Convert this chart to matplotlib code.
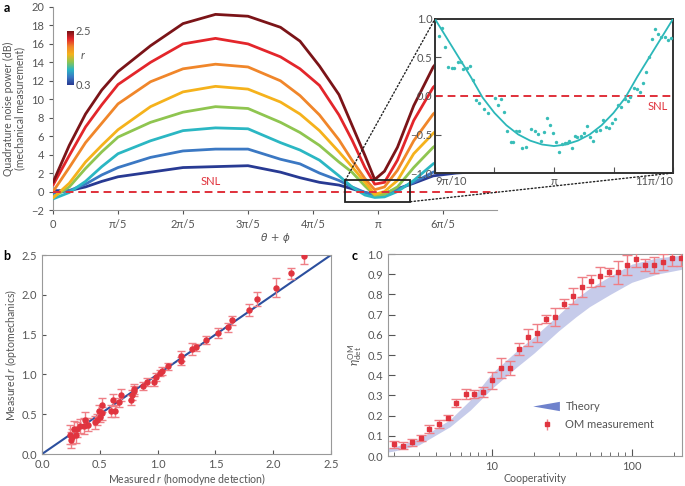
import numpy as np
import matplotlib
matplotlib.use("Agg")
import matplotlib.pyplot as plt
from matplotlib.colors import LinearSegmentedColormap
from matplotlib.patches import Rectangle, ConnectionPatch, Polygon
from matplotlib.legend_handler import HandlerBase

plt.rcParams['font.family'] = ['Lato', 'DejaVu Sans']
plt.rcParams['font.size'] = 8
plt.rcParams['mathtext.fontset'] = 'custom'
plt.rcParams['mathtext.rm'] = 'Lato'
plt.rcParams['mathtext.it'] = 'Lato:italic'

# ---------------- Panel a data (x in units of pi) ----------------
theta_pi = [0, 0.05, 0.1, 0.15, 0.2, 0.3, 0.4, 0.5, 0.6, 0.7, 0.76, 0.82, 0.88,
            0.92, 0.96, 0.99, 1.02, 1.06, 1.11, 1.17, 1.24, 1.32]
p_darkblue = [0.1, 0.1, 0.5, 1.1, 1.6, 2.1, 2.6, 2.7, 2.8, 2.1, 1.5, 1.0, 0.7,
              0.3, -0.1, -0.3, -0.2, 0.3, 0.9, 1.7, 2.0, 2.2]
p_blue = [-0.2, 0.1, 0.8, 1.8, 2.6, 3.7, 4.4, 4.6, 4.6, 3.5, 3.0, 2.0, 1.2,
          0.5, -0.1, -0.4, -0.3, 0.2, 1.0, 2.1, 2.8, 3.2]
p_cyan = [-0.8, -0.1, 1.1, 2.7, 4.1, 5.5, 6.6, 6.9, 6.8, 5.3, 4.5, 3.4, 1.7,
          0.5, -0.38, -0.64, -0.58, 0.0, 1.2, 3.0, 4.2, 5.2]
p_green = [-0.6, 0.5, 2.5, 4.3, 5.9, 7.5, 8.6, 9.2, 9.0, 7.5, 6.4, 5.0, 3.2,
           2.1, 0.6, -0.4, -0.3, 0.5, 2.6, 4.8, 6.5, 7.8]
p_yellow = [-0.7, 0.9, 3.2, 5.0, 6.7, 9.2, 10.8, 11.4, 11.1, 9.7, 8.4, 6.6, 4.3,
            2.7, 1.0, -0.3, 0.0, 1.2, 4.1, 6.3, 8.5, 10.0]
p_orange = [0.0, 2.6, 5.3, 7.4, 9.5, 11.9, 13.3, 13.8, 13.5, 12.0, 10.4, 8.3, 5.6,
            3.4, 1.4, 0.2, 0.5, 2.3, 5.5, 8.4, 10.5, 12.5]
p_red = [0.7, 3.9, 7.0, 9.4, 11.6, 14.0, 16.0, 16.6, 16.0, 14.6, 13.3, 11.5, 8.3,
         5.6, 2.6, 0.8, 1.0, 3.4, 7.7, 11.3, 13.5, 15.5]
p_darkred = [1.0, 5.0, 8.4, 11.0, 13.0, 15.8, 18.2, 19.2, 19.0, 17.8, 16.3, 13.6, 10.5,
             7.2, 3.9, 1.3, 2.2, 4.8, 9.3, 13.5, 16.5, 18.5]
curves = [p_darkblue, p_blue, p_cyan, p_green, p_yellow, p_orange, p_red, p_darkred]
curve_colors = ['#283a93', '#3b78c3', '#2bb7c3', '#8fc550', '#f5b21c', '#f0862a', '#e3262b', '#7b1418']

a_xticks = [0, 0.2, 0.4, 0.6, 0.8, 1.0, 1.2]
a_xticklabels = ['0', 'π/5', '2π/5', '3π/5', '4π/5', 'π', '6π/5']
a_yticks = list(range(-2, 21, 2))

# inset data (x in units of pi)
in_fit_t = [0.90, 0.91, 0.92, 0.93, 0.94, 0.95, 0.96, 0.97, 0.98, 0.99, 1.00,
            1.01, 1.02, 1.03, 1.04, 1.05, 1.06, 1.07, 1.08, 1.09, 1.10]
in_fit_p = [1.00, 0.75, 0.50, 0.25, -0.02, -0.22, -0.38, -0.50, -0.58, -0.63, -0.65,
            -0.63, -0.58, -0.50, -0.38, -0.22, -0.02, 0.25, 0.50, 0.75, 1.00]
in_pts_t = [0.9034, 0.9062, 0.9084, 0.9112, 0.9140, 0.9162, 0.9190, 0.9218, 0.9238, 0.9266,
            0.9294, 0.9316, 0.9344, 0.9372, 0.9414, 0.9448, 0.9503, 0.9531, 0.9554, 0.9579,
            0.9607, 0.9635, 0.9657, 0.9680, 0.9708, 0.9733, 0.9761, 0.9811, 0.9839, 0.9867,
            0.9889, 0.9917, 0.9943, 0.9965, 0.9993, 1.0015, 1.0043, 1.0071, 1.0091, 1.0113,
            1.0127, 1.0152, 1.0175, 1.0197, 1.0231, 1.0253, 1.0278, 1.0306, 1.0329, 1.0357,
            1.0385, 1.0413, 1.0435, 1.0463, 1.0491, 1.0516, 1.0538, 1.0566, 1.0594, 1.0622,
            1.0642, 1.0670, 1.0698, 1.0720, 1.0748, 1.0770, 1.0798, 1.0826, 1.0849, 1.0874,
            1.0902, 1.0930, 1.0957, 1.0985]
in_pts_p = [0.782, 0.878, 0.638, 0.380, 0.367, 0.358, 0.441, 0.441, 0.354, 0.367,
            0.389, 0.214, -0.048, -0.092, -0.166, -0.223, -0.026, -0.114, -0.035, -0.210,
            -0.454, -0.594, -0.603, -0.454, -0.454, -0.681, -0.659, -0.428, -0.454, -0.498,
            -0.585, -0.463, -0.288, -0.376, -0.485, -0.594, -0.725, -0.629, -0.616, -0.616,
            -0.585, -0.672, -0.515, -0.528, -0.515, -0.485, -0.384, -0.528, -0.581, -0.454,
            -0.441, -0.310, -0.397, -0.419, -0.354, -0.297, -0.114, -0.148, -0.035, -0.070,
            -0.017, 0.105, 0.096, 0.052, 0.170, 0.314, 0.507, 0.738, 0.869, 0.803,
            0.760, 0.769, 0.729, 0.751]
in_xticks = [0.9, 0.95, 1.0, 1.05, 1.1]
in_xticklabels = ['9π/10', '', 'π', '', '11π/10']
in_yticks = [-1.0, -0.5, 0.0, 0.5, 1.0]

# ---------------- Panel b data ----------------
b_x = [2.27, 2.15, 2.02, 1.86, 1.79, 1.64, 1.61, 1.52, 1.42, 1.33, 1.30, 1.20, 1.20, 1.09,
       1.04, 1.02, 0.99, 0.97, 0.91, 0.87, 0.80, 0.80, 0.78, 0.77, 0.68, 0.67, 0.61, 0.63,
       0.60, 0.52, 0.52, 0.50, 0.49, 0.48, 0.46, 0.40, 0.37, 0.36, 0.33, 0.30, 0.28, 0.26,
       0.29, 0.24, 0.25]
b_y = [2.49, 2.27, 2.09, 1.95, 1.81, 1.68, 1.59, 1.52, 1.43, 1.34, 1.32, 1.23, 1.17, 1.10,
       1.04, 1.02, 0.97, 0.91, 0.91, 0.86, 0.82, 0.79, 0.74, 0.68, 0.74, 0.65, 0.68, 0.54,
       0.54, 0.62, 0.51, 0.47, 0.54, 0.43, 0.40, 0.37, 0.43, 0.35, 0.35, 0.31, 0.31, 0.22,
       0.24, 0.24, 0.18]
b_err = [0.10, 0.07, 0.12, 0.09, 0.07, 0.06, 0.06, 0.06, 0.05, 0.04, 0.07, 0.06, 0.05, 0.04,
         0.05, 0.04, 0.05, 0.05, 0.05, 0.05, 0.06, 0.06, 0.06, 0.06, 0.08, 0.06, 0.08, 0.07,
         0.07, 0.09, 0.08, 0.07, 0.08, 0.07, 0.08, 0.08, 0.10, 0.10, 0.09, 0.09, 0.10, 0.10,
         0.10, 0.12, 0.10]
b_line = [0.0, 2.5]
b_ticks = [0.0, 0.5, 1.0, 1.5, 2.0, 2.5]

# ---------------- Panel c data ----------------
c_x = [1.98, 2.32, 2.67, 3.08, 3.56, 4.18, 4.81, 5.54, 6.46, 7.44, 8.63, 10.0, 11.65, 13.4,
       15.6, 18.1, 21.1, 24.3, 28.4, 32.7, 38.3, 44.2, 51.4, 59.3, 68.6, 79.4, 92.6, 108,
       125, 145, 168, 195, 227]
c_y = [0.058, 0.051, 0.069, 0.091, 0.134, 0.159, 0.190, 0.264, 0.309, 0.306, 0.316, 0.374,
       0.436, 0.436, 0.532, 0.587, 0.608, 0.679, 0.688, 0.755, 0.793, 0.835, 0.866, 0.889,
       0.911, 0.909, 0.947, 0.977, 0.944, 0.947, 0.962, 0.982, 0.980]
c_err = [0.017, 0.017, 0.017, 0.015, 0.02, 0.02, 0.012, 0.02, 0.025, 0.02, 0.025, 0.04,
         0.05, 0.035, 0.03, 0.04, 0.045, 0.02, 0.045, 0.02, 0.04, 0.05, 0.03, 0.045, 0.02,
         0.055, 0.05, 0.04, 0.03, 0.04, 0.04, 0.04, 0.04]
band_c = [1.8, 2, 3, 5, 7, 10, 15, 20, 30, 40, 50, 70, 100, 150, 230]
band_lo = [0.02, 0.025, 0.055, 0.145, 0.228, 0.335, 0.44, 0.51, 0.62, 0.69, 0.74, 0.80, 0.86, 0.90, 0.925]
band_hi = [0.04, 0.045, 0.085, 0.18, 0.278, 0.41, 0.52, 0.59, 0.70, 0.78, 0.83, 0.89, 0.95, 0.98, 0.995]
c_yticks = [round(0.1 * i, 1) for i in range(11)]

# ---------------- styling ----------------
TICKC = '#555555'
SPINEC = '#999999'
SNLC = '#e0303a'
PTC = '#e0343f'
ERRC = '#ef7f86'
FS = 8
LFS = 7.6

fig = plt.figure(figsize=(6.85, 4.86), dpi=100)

# ---------- Panel a ----------
ax = fig.add_axes([0.0774, 0.5679, 0.648, 0.4177])
for vals, col in zip(curves, curve_colors):
    ax.plot(theta_pi, vals, color=col, lw=2.0, solid_capstyle='round', zorder=3)
ax.axhline(0, color=SNLC, lw=1.4, ls=(0, (4, 2.5)), zorder=4)
ax.text(0.485, 0.45, 'SNL', color=SNLC, fontsize=FS, ha='center', va='bottom')
ax.set_xlim(0, 1.366)
ax.set_ylim(-2, 20)
ax.set_xticks(a_xticks)
ax.set_xticklabels(a_xticklabels)
ax.set_yticks(a_yticks)
for s in ['top', 'right']:
    ax.spines[s].set_visible(False)
for s in ['left', 'bottom']:
    ax.spines[s].set_color(SPINEC)
ax.tick_params(colors=TICKC, labelcolor=TICKC, length=3, direction='out', labelsize=FS)
ax.set_ylabel('Quadrature noise power (dB)\n(mechanical measurement)', color=TICKC,
              fontsize=LFS, labelpad=4, linespacing=1.1)
ax.set_xlabel('θ + ϕ', color=TICKC, fontsize=LFS, labelpad=2, family=['DejaVu Sans'],
              style='italic')
rect = Rectangle((0.9, -1.1), 0.2, 2.35, fill=False, ec='#222222', lw=1.3, zorder=5)
ax.add_patch(rect)
fig.text(0.005, 0.975, 'a', fontsize=9, fontweight='bold')

# colorbar
cmap = LinearSegmentedColormap.from_list('rcmap', curve_colors)
cax = fig.add_axes([0.0978, 0.8251, 0.0088, 0.111])
grad = np.linspace(0, 1, 100).reshape(-1, 1)
cax.imshow(grad, aspect='auto', cmap=cmap, origin='lower', extent=[0, 1, 0.3, 2.5])
cax.set_xticks([])
cax.set_yticks([])
for s in cax.spines.values():
    s.set_visible(False)
cax.text(1.4, 1.0, '2.5', transform=cax.transAxes, ha='left', va='center', fontsize=FS, color=TICKC)
cax.text(1.4, 0.0, '0.3', transform=cax.transAxes, ha='left', va='center', fontsize=FS, color=TICKC)
cax.text(2.3, 0.55, 'r', transform=cax.transAxes, ha='left', va='center', fontsize=FS,
         color=TICKC, style='italic')

# inset
axi = fig.add_axes([0.635, 0.644, 0.3475, 0.317])
axi.set_facecolor('white')
axi.plot(in_fit_t, in_fit_p, color='#2bb7b9', lw=1.3, zorder=3)
axi.scatter(in_pts_t, in_pts_p, s=6, color='#38bdb8', zorder=4, linewidths=0)
axi.axhline(0, color=SNLC, lw=1.4, ls=(0, (4, 2.5)), zorder=2)
axi.text(1.096, -0.07, 'SNL', color=SNLC, fontsize=FS, ha='right', va='top')
axi.set_xlim(0.9, 1.1)
axi.set_ylim(-1.0, 1.0)
axi.set_xticks(in_xticks)
axi.set_xticklabels(in_xticklabels)
tl = axi.get_xticklabels()
tl[0].set_ha('left')
tl[-1].set_ha('right')
axi.set_yticks(in_yticks)
axi.set_yticklabels(['−1.0', '−0.5', '0.0', '0.5', '1.0'])
for s in axi.spines.values():
    s.set_color('#333333')
    s.set_linewidth(1.4)
axi.tick_params(colors=TICKC, labelcolor=TICKC, direction='in', length=4, labelsize=FS, pad=2)

for xyA, xyB in [((0.9, 1.25), (0.0, 1.0)), ((1.1, -1.1), (1.0, 0.0))]:
    con = ConnectionPatch(xyA=xyA, coordsA=ax.transData, xyB=xyB, coordsB=axi.transAxes,
                          ls=':', lw=1.0, color='#222222', zorder=1)
    fig.add_artist(con)

# ---------- Panel b ----------
axb = fig.add_axes([0.0613, 0.0658, 0.4219, 0.4095])
axb.plot(b_line, b_line, color='#2b4f9e', lw=1.5, zorder=2)
axb.errorbar(b_x, b_y, yerr=b_err, fmt='o', ms=3.6, color=PTC, ecolor=ERRC,
             elinewidth=1.0, capsize=3, capthick=1.0, zorder=3)
axb.set_xlim(0, 2.5)
axb.set_ylim(0, 2.5)
axb.set_xticks(b_ticks)
axb.set_yticks(b_ticks)
for s in axb.spines.values():
    s.set_color(SPINEC)
axb.tick_params(colors=TICKC, labelcolor=TICKC, direction='in', length=3, labelsize=FS)
axb.set_xlabel('Measured $r$ (homodyne detection)', color=TICKC, fontsize=LFS, labelpad=1)
axb.set_ylabel('Measured $r$ (optomechanics)', color=TICKC, fontsize=LFS, labelpad=2)
fig.text(0.005, 0.465, 'b', fontsize=9, fontweight='bold')

# ---------- Panel c ----------
axc = fig.add_axes([0.5664, 0.0617, 0.4292, 0.4156])
axc.fill_between(band_c, band_lo, band_hi, color='#c6cbea', lw=0, zorder=1)
axc.errorbar(c_x, c_y, yerr=c_err, fmt='s', ms=2.5, color=PTC, ecolor=ERRC,
             elinewidth=1.0, capsize=3.5, capthick=1.0, zorder=3)
axc.set_xscale('log')
axc.set_xlim(1.8, 229)
axc.set_ylim(0, 1.0)
axc.set_yticks(c_yticks)
axc.set_xticks([10, 100])
axc.set_xticklabels(['10', '100'])
for s in axc.spines.values():
    s.set_color(SPINEC)
axc.tick_params(which='both', colors=TICKC, labelcolor=TICKC, direction='in', labelsize=FS)
axc.tick_params(which='major', length=5)
axc.tick_params(which='minor', length=3)
axc.set_xlabel('Cooperativity', color=TICKC, fontsize=LFS, labelpad=1)
axc.set_ylabel(r'$\eta^{\rm OM}_{\rm det}$', color=TICKC, fontsize=8.5, labelpad=2)
fig.text(0.513, 0.465, 'c', fontsize=9, fontweight='bold')


class WedgeHandler(HandlerBase):
    def create_artists(self, legend, orig_handle, xdescent, ydescent, width, height,
                       fontsize, trans):
        poly = Polygon([[-xdescent, -ydescent + height * 0.5],
                        [-xdescent + width, -ydescent + height * 1.1],
                        [-xdescent + width, -ydescent - height * 0.1]],
                       closed=True, facecolor='#6f82cc', edgecolor='none', transform=trans)
        return [poly]


wedge_handle = Polygon([[0, 0], [1, 0], [1, 1]])
eb_handle = axc.errorbar([], [], yerr=[], fmt='s', ms=2.5, color=PTC, ecolor=ERRC,
                         elinewidth=1.0, capsize=3.5, capthick=1.0)
leg = axc.legend([wedge_handle, eb_handle], ['Theory', 'OM measurement'],
                 handler_map={Polygon: WedgeHandler()}, loc='upper left',
                 bbox_to_anchor=(0.46, 0.32), frameon=False, fontsize=FS,
                 handlelength=2.4, labelspacing=0.6, handletextpad=0.5)
for t in leg.get_texts():
    t.set_color(TICKC)

fig.savefig('out.png', dpi=100)
